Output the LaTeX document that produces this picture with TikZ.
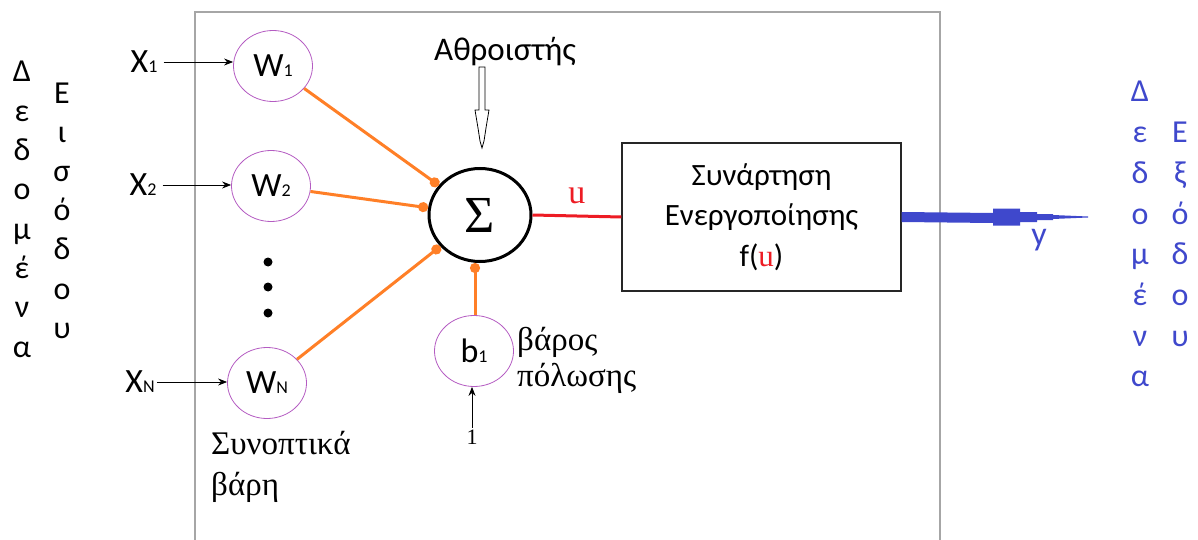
\documentclass[tikz,border=0pt]{standalone}
\usepackage{fontspec}
\setmainfont{Carlito}
\newfontfamily\timesgr{Liberation Serif}
\usetikzlibrary{arrows.meta,positioning,shapes.geometric}
\definecolor{wpurple}{HTML}{B45CC2}
\definecolor{worange}{HTML}{FF7F27}
\definecolor{ured}{HTML}{ED1C24}
\definecolor{yblue}{HTML}{3F48CC}
\definecolor{framegray}{HTML}{A6A6A6}
\newcommand{\smallidx}[1]{{\fontsize{18}{18}\selectfont #1}}
\begin{document}
\begin{tikzpicture}[x=1pt,y=-1pt,
	every node/.style={font=\fontsize{34}{34}\selectfont,inner sep=2pt},
	weight/.style={ellipse,draw=wpurple,line width=0.8pt,minimum width=79pt,minimum height=71pt,inner sep=0pt},
	letter/.style={anchor=base,font=\fontsize{32}{32}\selectfont},
	inarrow/.style={-{Stealth[length=9pt,width=7pt]},line width=0.8pt},
	wline/.style={worange,line width=3pt,-{Circle[length=10pt]}}]
	\useasboundingbox (0,0) rectangle (1198,540);%taille de la figure

	\draw[framegray,line width=1.6pt] (195,540) -- (195,12) -- (940,12) -- (940,540);

	\foreach \c [count=\i] in {Δ,ε,δ,ο,μ,έ,ν,α} {
		\node[letter] (inA\i) at (22,{82+39.3*(\i-1)}) {\c};}
	\foreach \c [count=\i] in {Ε,ι,σ,ό,δ,ο,υ} {
		\node[letter] (inB\i) at (62,{103.5+39.1*(\i-1)}) {\c};}
	\foreach \c [count=\i] in {Δ,ε,δ,ο,μ,έ,ν,α} {
		\node[letter,text=yblue] (outA\i) at (1140,{102+40.7*(\i-1)}) {\c};}
	\foreach \c [count=\i] in {Ε,ξ,ό,δ,ο,υ} {
		\node[letter,text=yblue] (outB\i) at (1180,{142.7+40.7*(\i-1)}) {\c};}

	\node[weight] (w1) at (273,66) {W\smallidx{1}};
	\node[weight] (w2) at (271,186) {W\smallidx{2}};
	\node[weight] (wn) at (267,383) {W\smallidx{N}};
	\node[weight] (b1) at (474,351) {b\smallidx{1}};
	\node[ellipse,draw,line width=3pt,minimum width=102pt,minimum height=93pt,inner sep=0pt,font=\fontsize{52}{52}\selectfont\timesgr] (sum) at (480,215) {Σ};
	\node[draw=black!85,line width=1.2pt,minimum width=279pt,minimum height=148pt,align=center,font=\fontsize{31}{40.5}\selectfont] (act) at (761.5,217) {Συνάρτηση\\Ενεργοποίησης\\f({\timesgr\color{ured}u})};

	\node (x1) at (144,62) {X\smallidx{1}};
	\node (x2) at (143,185) {X\smallidx{2}};
	\node (xn) at (140,382) {X\smallidx{N}};
	\draw[inarrow] (x1.east) ++(4,0) -- (x1.east -| w1.west);
	\draw[inarrow] (x2.east) ++(4,0) -- (x2.east -| w2.west);
	\draw[inarrow] (xn.east) -- (xn.east -| wn.west);

	\foreach \y in {262,287,313} {
		\fill (268,\y) circle (4.5);}

	\draw[wline] (w1) -- (sum);
	\draw[wline] (w2) -- (sum);
	\draw[wline] (wn) -- (sum);
	\draw[wline] ([xshift=1pt]b1.north) -- ([xshift=1pt]b1.north |- sum.south);

	\node[font=\fontsize{33}{33}\selectfont] (sumlbl) at (505,52) {Αθροιστής};
	\coordinate (addtip) at (482,148);
	\filldraw[fill=white,draw=black,line width=0.8pt] (addtip) -- ++(-2,-7) -- ++(-2,-13) -- ++(-3,-18) -- ++(4,0) -- ++(0,-43) -- ++(6,0) -- ++(0,43) -- ++(4,0) -- ++(-3,18) -- ++(-2,13) -- cycle;

	\node[anchor=west,align=left,font=\fontsize{33}{41}\selectfont\timesgr] (synlbl) at (209,467) {Συνοπτικά\\βάρη};
	\node[anchor=west,align=left,font=\fontsize{33}{36}\selectfont\timesgr] (biaslbl) at (515,360) {βάρος\\πόλωσης};

	\node[font=\fontsize{22}{22}\selectfont\timesgr] (one) at (472,437) {1};
	\draw[inarrow] (one.north) -- (one.north |- b1.south);

	\draw[ured,line width=3pt] (sum.east) -- (act.west) node[midway,above=9pt,font=\fontsize{34}{34}\selectfont\timesgr] (ulbl) {u};

	\coordinate (ytip) at (1088,218);
	\draw[yblue,line width=10pt] (act.east) -- (993,218);
	\fill[yblue] (ytip) ++(0,-1.5) -- ++(-35,-1.5) -- ++(0,-1) -- ++(-16,0) -- ++(0,-2) -- ++(-17,0) -- ++(0,-3.5) -- ++(-27,0) -- ++(0,17) -- ++(27,0) -- ++(0,-3.5) -- ++(17,0) -- ++(0,-2) -- ++(16,0) -- ++(0,-1) -- ++(35,-1.5) -- cycle;
	\node[text=yblue] (ylbl) at (1039,240) {y};
\end{tikzpicture}
\end{document}
